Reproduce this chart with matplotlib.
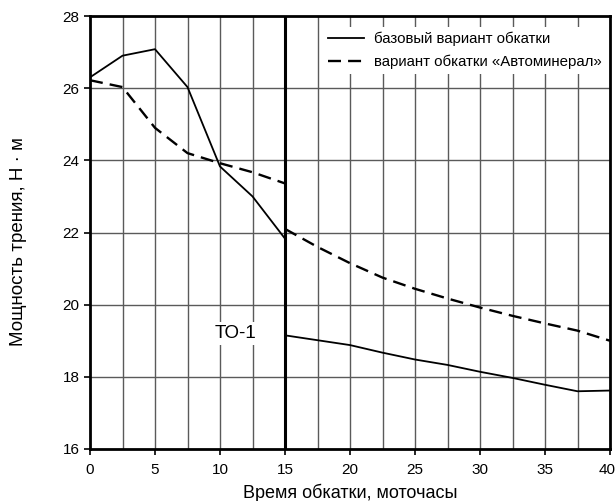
import matplotlib
matplotlib.use("Agg")
import matplotlib.pyplot as plt
import matplotlib.transforms as mtransforms

plt.rcParams['font.family'] = ['Liberation Sans', 'DejaVu Sans']

# Base running-in variant (before and after TO-1)
base_x1 = [0, 2.5, 5, 7.5, 10, 12.5, 15]
base_y1 = [26.3, 26.9, 27.08, 26.03, 23.83, 23.0, 21.83]
base_x2 = [15, 20, 22.5, 25, 27.5, 30, 32.5, 35, 37.5, 40]
base_y2 = [19.15, 18.88, 18.67, 18.48, 18.33, 18.14, 17.97, 17.78, 17.6, 17.62]

# "Avtomineral" variant
avt_x1 = [0, 2.5, 5, 7.5, 10, 12.5, 15]
avt_y1 = [26.22, 26.03, 24.9, 24.2, 23.92, 23.67, 23.36]
avt_x2 = [15, 17.5, 20, 22.5, 25, 27.5, 30, 32.5, 35, 37.5, 40]
avt_y2 = [22.1, 21.6, 21.15, 20.75, 20.44, 20.17, 19.92, 19.69, 19.48, 19.28, 19.0]

x_ticks = [0, 5, 10, 15, 20, 25, 30, 35, 40]
y_ticks = [16, 18, 20, 22, 24, 26, 28]

fig = plt.figure(figsize=(6.16, 5.01), dpi=100)
ax = fig.add_axes([90/616, 1-449/501, 520/616, 433/501])

ax.set_xlim(0, 40)
ax.set_ylim(16, 28)

# grid
for gx in [2.5 * i for i in range(1, 16)]:
    ax.axvline(gx, color='#5a5a5a', lw=1.0, zorder=1)
for gy in y_ticks[1:-1]:
    ax.axhline(gy, color='#5a5a5a', lw=1.0, zorder=1)

ax.axvline(15, color='black', lw=2.2, zorder=3)

dash = (0, (5.5, 3.0))
l1, = ax.plot(base_x1, base_y1, color='black', lw=1.3, zorder=4, label='базовый вариант обкатки')
ax.plot(base_x2, base_y2, color='black', lw=1.3, zorder=4)
l2, = ax.plot(avt_x1, avt_y1, color='black', lw=1.7, ls=dash, zorder=4,
              label='вариант обкатки «Автоминерал»')
ax.plot(avt_x2, avt_y2, color='black', lw=1.7, ls=dash, zorder=4)

ax.text(11.2, 19.2, 'ТО-1', ha='center', va='center', fontsize=13.5,
        bbox=dict(facecolor='white', edgecolor='none', pad=2), zorder=5)

leg = ax.legend(handles=[l1, l2], loc='upper right', frameon=True, fancybox=False,
                framealpha=1, edgecolor='none', facecolor='white', fontsize=10.8,
                handlelength=2.4, handletextpad=0.7, labelspacing=0.55,
                borderpad=0.35, borderaxespad=0.0, bbox_to_anchor=(0.995, 0.975))
leg.set_zorder(6)

ax.set_xticks(x_ticks)
ax.set_yticks(y_ticks)
ax.tick_params(direction='out', length=4, width=1.2, labelsize=11)
ax.tick_params(axis='x', pad=6)
for s in ax.spines.values():
    s.set_linewidth(2)
    s.set_zorder(7)

ax.set_xlabel('Время обкатки, моточасы', fontsize=13)
ax.xaxis.set_label_coords(0.5, -(484 - 449) / 433)
ax.set_ylabel('Мощность трения, Н · м', fontsize=13.5)
ax.yaxis.set_label_coords(-(90 - 27) / 520, 0.48)

fig.canvas.draw()
last = ax.get_xticklabels()[-1]
last.set_transform(last.get_transform() +
                   mtransforms.ScaledTranslation(-3 / 100, 0, fig.dpi_scale_trans))

fig.savefig('out.png', dpi=100)
